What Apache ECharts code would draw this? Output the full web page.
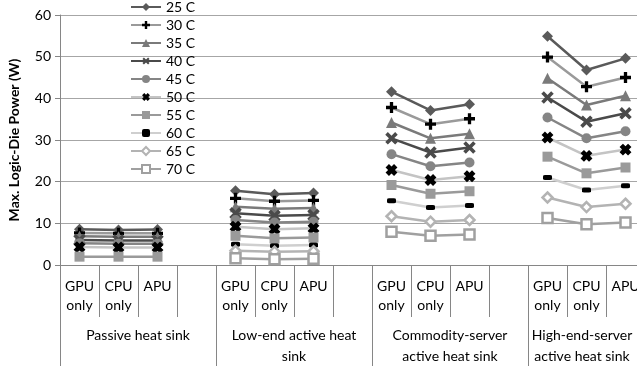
<!DOCTYPE html>
<html>
<head>
<meta charset="utf-8">
<script src="https://cdn.jsdelivr.net/npm/echarts@6/dist/echarts.min.js"></script>
<style>
html,body{margin:0;padding:0;background:#fff;}
#chart{width:637px;height:366px;}
</style>
</head>
<body>
<div id="chart"></div>
<script>
// ---- data ----
const temps = ['25 C','30 C','35 C','40 C','45 C','50 C','55 C','60 C','65 C','70 C'];
const devices = ['GPU\nonly','CPU\nonly','APU',''];
const groups = ['Passive heat sink','Low-end active heat\nsink','Commodity-server\nactive heat sink','High-end-server\nactive heat sink'];
// each: [Passive GPU,CPU,APU, Low-end GPU,CPU,APU, Commodity GPU,CPU,APU, High-end GPU,CPU,APU]
const t25 = [8.6,8.4,8.5, 17.8,17.0,17.3, 41.6,37.1,38.6, 54.9,46.8,49.6];
const t30 = [7.7,7.6,7.6, 16.0,15.3,15.5, 37.8,33.8,35.1, 49.9,42.8,45.0];
const t35 = [6.9,6.8,6.8, 14.0,13.5,13.7, 34.2,30.4,31.5, 44.8,38.4,40.6];
const t40 = [6.0,5.9,5.9, 12.4,11.8,12.0, 30.4,27.0,28.2, 40.2,34.4,36.4];
const t45 = [5.2,5.1,5.1, 10.8,10.2,10.4, 26.6,23.7,24.6, 35.4,30.4,32.1];
const t50 = [4.3,4.2,4.2, 9.2,8.6,8.8, 22.8,20.4,21.3, 30.6,26.2,27.7];
const t55 = [2.0,2.0,2.0, 7.0,6.4,6.6, 19.2,17.1,17.7, 26.0,22.0,23.4];
const t60 = [null,null,null, 5.0,4.6,4.8, 15.4,13.8,14.3, 21.0,18.0,19.0];
const t65 = [null,null,null, 3.4,3.2,3.3, 11.7,10.4,10.8, 16.2,13.9,14.7];
const t70 = [null,null,null, 1.6,1.4,1.5, 8.0,7.0,7.3, 11.3,9.8,10.2];
const yTicks = [0,10,20,30,40,50,60];

const values = [t25,t30,t35,t40,t45,t50,t55,t60,t65,t70];

// build 16 categories (4 groups x [GPU, CPU, APU, gap])
const categories = [];
groups.forEach(() => devices.forEach(d => categories.push(d)));
function expand(arr){
  const out = [];
  for (let g = 0; g < 4; g++) {
    for (let i = 0; i < 3; i++) out.push(arr[g*3+i]);
    out.push(null);
  }
  return out;
}

const PLUS = 'path://M3.5,0H6.5V3.5H10V6.5H6.5V10H3.5V6.5H0V3.5H3.5Z';
const PLUS_MID = 'path://M3.7,0H6.3V3.7H10V6.3H6.3V10H3.7V6.3H0V3.7H3.7Z';
const PLUS_BOLD = 'path://M3,0H7V3H10V7H7V10H3V7H0V3H3Z';

const styles = [
  {line:'#5a5a5a', symbol:'diamond', size:11, color:'#5a5a5a'},
  {line:'#9a9a9a', symbol:PLUS, size:11, color:'#000'},
  {line:'#7a7a7a', symbol:'triangle', size:11, color:'#7a7a7a'},
  {line:'#4a4a4a', symbol:PLUS_MID, size:14, color:'#4a4a4a', rotate:45},
  {line:'#858585', symbol:'circle', size:10, color:'#858585'},
  {line:'#c4c4c4', symbol:PLUS_BOLD, size:12, color:'#000', rotate:45},
  {line:'#9a9a9a', symbol:'rect', size:10, color:'#9a9a9a'},
  {line:'#cfcfcf', symbol:'roundRect', size:[9,5], color:'#000'},
  {line:'#b3b3b3', symbol:'diamond', size:10, color:'#fff', border:'#b3b3b3'},
  {line:'#a0a0a0', symbol:'rect', size:10, color:'#fff', border:'#a0a0a0'}
];

const series = temps.map((name, i) => {
  const s = styles[i];
  return {
    name: name,
    type: 'line',
    data: expand(values[i]),
    connectNulls: false,
    symbol: s.symbol,
    symbolSize: s.size,
    symbolRotate: s.rotate || 0,
    showAllSymbol: true,
    lineStyle: {color: s.line, width: 2.5},
    itemStyle: {color: s.color, borderColor: s.border || s.color, borderWidth: s.border ? 2.5 : 0},
    emphasis: {disabled: true},
    animation: false,
    z: 2
  };
});

const FONT = 'Lato';
const chart = echarts.init(document.getElementById('chart'), null, {renderer:'canvas'});
chart.setOption({
  animation: false,
  textStyle: {fontFamily: FONT},
  legend: {
    orient: 'vertical',
    left: 130, top: 0,
    padding: 0,
    itemGap: 4,
    itemWidth: 30, itemHeight: 10,
    textStyle: {fontFamily: FONT, fontSize: 14, color: '#000'},
    data: temps
  },
  grid: {left: 60, top: 15, width: 624, height: 250, containLabel: false, outerBoundsMode: 'none'},
  xAxis: [
    {
      type: 'category',
      data: categories,
      boundaryGap: true,
      axisLine: {show: true, lineStyle: {color: '#868686', width: 1}},
      axisTick: {show: true, interval: 0, length: 52, lineStyle: {color: '#868686'}},
      axisLabel: {interval: 0, margin: 12, fontFamily: FONT, fontSize: 14, color: '#000', lineHeight: 19},
      splitLine: {show: false}
    },
    {
      type: 'category',
      data: groups.map((g, i) => i === 3 ? {value: g, textStyle: {padding: [0, 48, 0, 0]}} : g),
      position: 'bottom',
      boundaryGap: true,
      axisLine: {show: false},
      axisTick: {show: true, interval: 0, length: 101, lineStyle: {color: '#868686'}},
      axisLabel: {interval: 0, margin: 60, fontFamily: FONT, fontSize: 14, color: '#000', lineHeight: 21},
      splitLine: {show: false}
    }
  ],
  yAxis: {
    type: 'value',
    min: yTicks[0], max: yTicks[yTicks.length-1], interval: 10,
    name: 'Max. Logic-Die Power (W)',
    nameLocation: 'middle',
    nameGap: 39,
    nameTextStyle: {fontFamily: FONT, fontSize: 14, fontWeight: 'bold', color: '#000'},
    axisLine: {show: true, lineStyle: {color: '#868686'}},
    axisTick: {show: true, length: 5, lineStyle: {color: '#868686'}},
    axisLabel: {margin: 9, fontFamily: FONT, fontSize: 14, color: '#000'},
    splitLine: {show: true, lineStyle: {color: '#a6a6a6', width: 1}}
  },
  series: series
});
</script>
</body>
</html>
